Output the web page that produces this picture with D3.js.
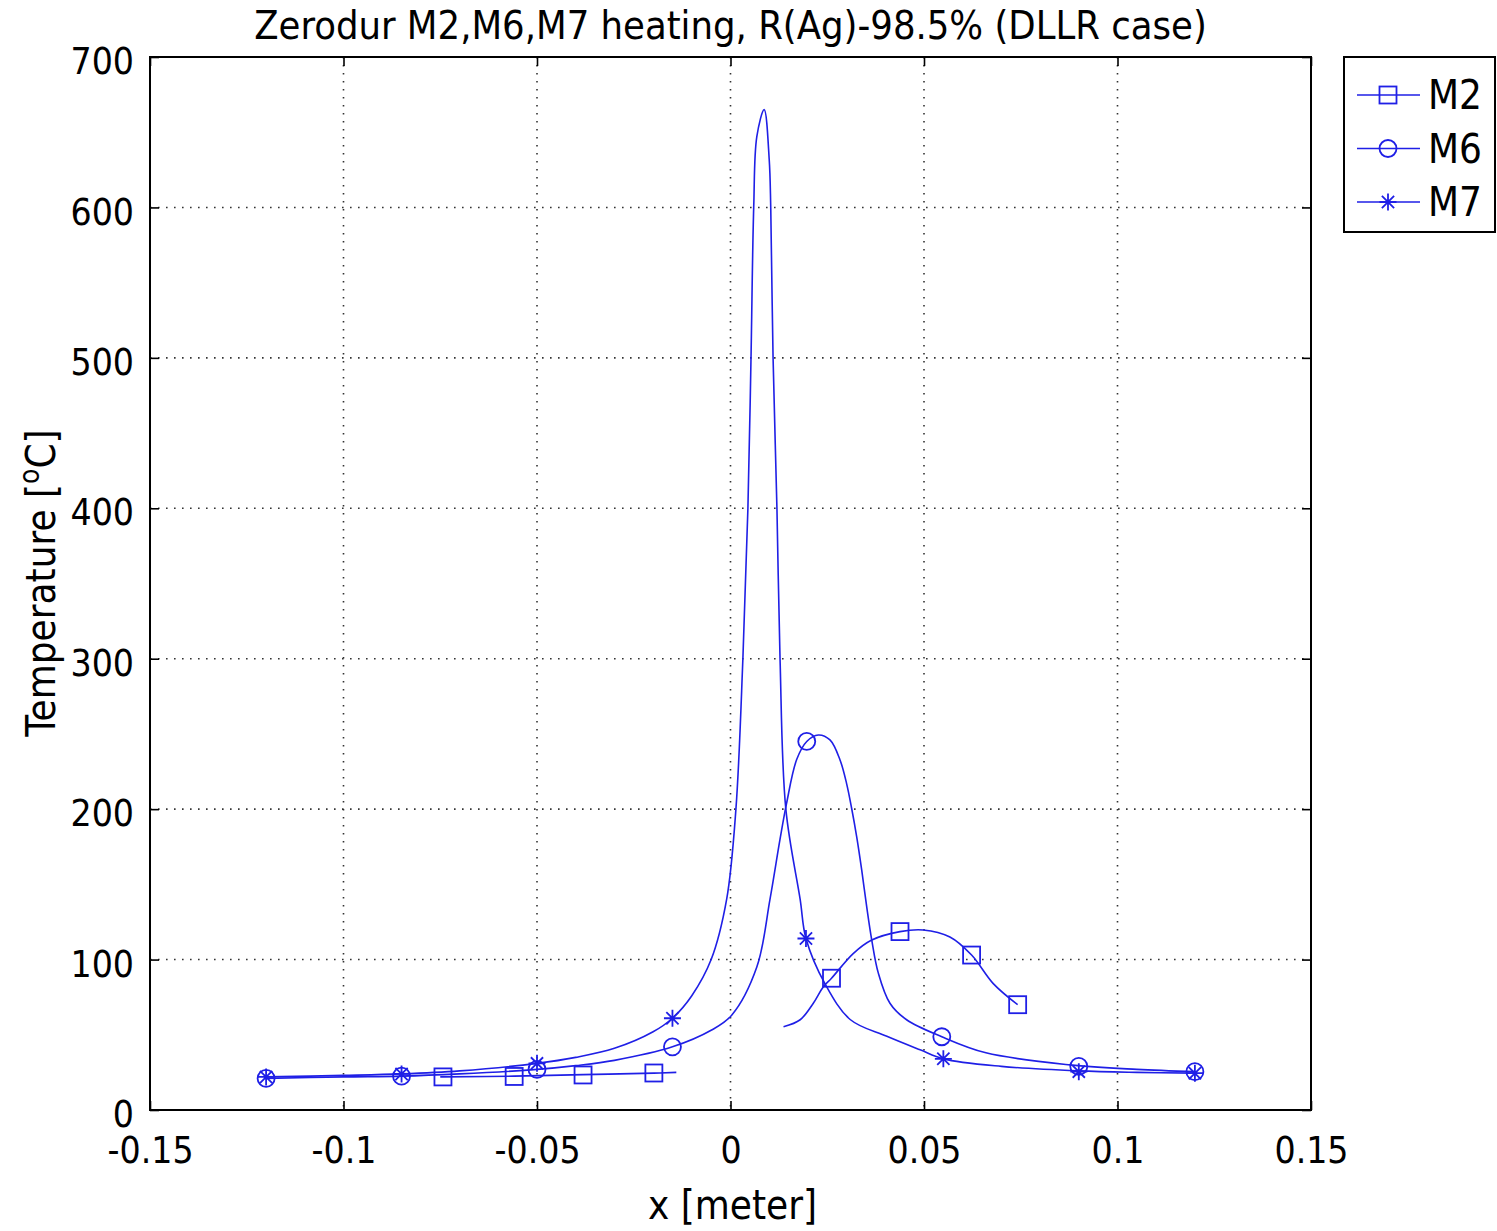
<!DOCTYPE html>
<html lang="en">
<head>
<meta charset="UTF-8">
<title>Zerodur M2,M6,M7 heating</title>
<script src="https://d3js.org/d3.v7.min.js"></script>
<style>
    body{ margin:0; background:#fff; }
    svg{ display:block; }
    text{ font-family: "DejaVu Sans Condensed", "DejaVu Sans", sans-serif; fill:#000; }
</style>
</head>
<body>
<script>

    // curve samples: [x (m), temperature (degC)]
    const m2Left = [[-0.075,22],[-0.0743,22],[-0.0559,22.5],[-0.0381,23.5],[-0.0198,24.5],[-0.014,25]]
    const m2Right = [[0.0137,55.4],[0.018,60],[0.0214,71],[0.024,82],[0.0261,87.6],[0.0317,104],[0.0365,113],
        [0.0438,118.6],[0.0498,119.7],[0.0567,115],[0.0623,103],[0.0679,84],[0.0742,70]]
    const m6Curve = [[-0.12,21],[-0.10,22],[-0.085,22.5],[-0.07,24],[-0.05,27],[-0.04,29.5],[-0.03,33],
        [-0.015,42],[-0.005,53],[0.0003,63],[0.0068,95],[0.0102,140],[0.0128,180],[0.0145,204],
        [0.0171,233],[0.0197,245],[0.0227,249.3],[0.0257,246],[0.0283,232.7],[0.030,217],[0.0313,200.6],
        [0.0326,181.7],[0.0339,159.6],[0.0352,135],[0.0365,113],[0.0382,91],[0.0412,71],[0.0455,60],
        [0.0546,48.7],[0.066,38],[0.0877,30],[0.105,27],[0.12,25.5]]
    const m7Curve = [[-0.12,22],[-0.10,23],[-0.085,24],[-0.07,26],[-0.05,31],[-0.04,35],[-0.03,41],
        [-0.02,52],[-0.015,61],[-0.01,76],[-0.005,100],[-0.001,140],[0.0014,200],[0.0032,300],
        [0.0045,400],[0.0053,500],[0.006,600],[0.0068,647],[0.0087,665],[0.01,632],[0.0104,600],
        [0.011,500],[0.012,400],[0.0128,300],[0.0143,200],[0.018,140],[0.0195,114],[0.0244,84],
        [0.031,60],[0.0404,49],[0.049,40],[0.055,34],[0.07,29],[0.09,26],[0.105,25],[0.12,24.5]]

    // marker positions
    const m2Markers = [[-0.0743,22],[-0.0559,22.3],[-0.0381,23.3],[-0.0198,24.6],[0.0261,87.6],[0.0438,118.6],[0.0623,103],[0.0742,70]]
    const m6Markers = [[-0.12,21],[-0.085,22.5],[-0.05,27],[-0.015,42],[0.0197,245],[0.0546,48.7],[0.09,29],[0.12,25.5]]
    const m7Markers = [[-0.12,22],[-0.085,24],[-0.05,31],[-0.015,61],[0.0195,114],[0.055,34],[0.09,25.5],[0.12,24.5]]

    const xTicks = [-0.15,-0.1,-0.05,0,0.05,0.1,0.15]
    const yTicks = [0,100,200,300,400,500,600,700]
    const legendNames = ["M2","M6","M7"]

    const width = 1497, height = 1231
    const plot = {left:150, right:1311, top:57, bottom:1110}
    const blue = "#1f1fe6"
    const fontFam = '"DejaVu Sans Condensed", "DejaVu Sans", sans-serif'

    const svg = d3.select("body").append("svg")
        .attr("width",width).attr("height",height)

    const x = d3.scaleLinear().domain([-0.15,0.15]).range([plot.left,plot.right])
    const y = d3.scaleLinear().domain([0,700]).range([plot.bottom,plot.top])

    // grid
    const grid = svg.append("g")
    grid.selectAll(".vg").data(xTicks.slice(1,-1)).enter().append("line")
        .attr("x1",d=>x(d)).attr("x2",d=>x(d))
        .attr("y1",plot.top).attr("y2",plot.bottom)
        .attr("stroke","#333").attr("stroke-width",1.6).attr("stroke-dasharray","1.6 6.4")
    grid.selectAll(".hg").data(yTicks.slice(1,-1)).enter().append("line")
        .attr("y1",d=>y(d)).attr("y2",d=>y(d))
        .attr("x1",plot.left).attr("x2",plot.right)
        .attr("stroke","#333").attr("stroke-width",1.6).attr("stroke-dasharray","1.6 6.4")

    // axes with inward ticks, plain hyphen for minus
    const fmt = d => String(d)
    const xAxisB = d3.axisBottom(x).tickValues(xTicks).tickSizeInner(-9).tickSizeOuter(0).tickFormat(fmt)
    const xAxisT = d3.axisTop(x).tickValues(xTicks).tickSizeInner(-9).tickSizeOuter(0).tickFormat("")
    const yAxisL = d3.axisLeft(y).tickValues(yTicks).tickSizeInner(-9).tickSizeOuter(0).tickFormat(fmt)
    const yAxisR = d3.axisRight(y).tickValues(yTicks).tickSizeInner(-9).tickSizeOuter(0).tickFormat("")

    function styleAxis(g){
        g.select(".domain").remove()
        g.selectAll(".tick line").attr("stroke","#000").attr("stroke-width",1.6)
        g.selectAll(".tick text").style("font-family",fontFam)
            .style("font-size","37px").attr("fill","#000")
    }
    svg.append("g").attr("transform",`translate(0,${plot.bottom})`).call(xAxisB).call(styleAxis)
        .selectAll(".tick text").attr("y",27).attr("dy","0.71em")
    svg.append("g").attr("transform",`translate(0,${plot.top})`).call(xAxisT).call(styleAxis)
    svg.append("g").attr("transform",`translate(${plot.left},0)`).call(yAxisL).call(styleAxis)
        .selectAll(".tick text").attr("x",-16).attr("dy","0.45em")
    svg.append("g").attr("transform",`translate(${plot.right},0)`).call(yAxisR).call(styleAxis)

    // frame
    svg.append("rect").attr("x",plot.left).attr("y",plot.top)
        .attr("width",plot.right-plot.left).attr("height",plot.bottom-plot.top)
        .attr("fill","none").attr("stroke","#000").attr("stroke-width",2)

    // lines
    const line = d3.line().x(d=>x(d[0])).y(d=>y(d[1])).curve(d3.curveCatmullRom.alpha(0.5))
    const lines = svg.append("g").attr("fill","none").attr("stroke",blue).attr("stroke-width",1.6)
    ;[m2Left,m2Right,m6Curve,m7Curve].forEach(c=>{
        lines.append("path").attr("d",line(c))
    })

    // marker drawing
    function square(g,cx,cy){
        g.append("rect").attr("x",cx-8.5).attr("y",cy-8.5).attr("width",17).attr("height",17)
            .attr("fill","none").attr("stroke",blue).attr("stroke-width",1.8)
    }
    function circle(g,cx,cy){
        g.append("circle").attr("cx",cx).attr("cy",cy).attr("r",8.5)
            .attr("fill","none").attr("stroke",blue).attr("stroke-width",1.8)
    }
    function star(g,cx,cy){
        const r = 8.5, d = r*0.72
        g.append("path")
            .attr("d",`M${cx},${cy-r}L${cx},${cy+r}M${cx-r},${cy}L${cx+r},${cy}M${cx-d},${cy-d}L${cx+d},${cy+d}M${cx-d},${cy+d}L${cx+d},${cy-d}`)
            .attr("stroke",blue).attr("stroke-width",1.8).attr("fill","none")
    }
    const markerFns = [square,circle,star]
    const marks = svg.append("g")
    ;[m2Markers,m6Markers,m7Markers].forEach((arr,i)=>{
        arr.forEach(p=>markerFns[i](marks,x(p[0]),y(p[1])))
    })

    // title and labels
    svg.append("text").attr("x",(plot.left+plot.right)/2).attr("y",39)
        .attr("text-anchor","middle").style("font-size","39.5px")
        .text("Zerodur M2,M6,M7 heating, R(Ag)-98.5% (DLLR case)")
    svg.append("text").attr("x",(plot.left+plot.right)/2+2).attr("y",1219)
        .attr("text-anchor","middle").style("font-size","40px")
        .text("x [meter]")
    const yl = svg.append("text").attr("transform",`translate(55,583) rotate(-90)`)
        .attr("text-anchor","middle").style("font-size","40px")
    yl.append("tspan").text("Temperature [")
    yl.append("tspan").attr("baseline-shift","super").style("font-size","28px").text("o")
    yl.append("tspan").text("C]")

    // legend
    const lg = svg.append("g")
    lg.append("rect").attr("x",1344).attr("y",57).attr("width",151).attr("height",175)
        .attr("fill","#fff").attr("stroke","#000").attr("stroke-width",2)
    legendNames.forEach((name,i)=>{
        const cy = 95 + i*53.5
        lg.append("line").attr("x1",1357).attr("x2",1420).attr("y1",cy).attr("y2",cy)
            .attr("stroke",blue).attr("stroke-width",1.6)
        markerFns[i](lg,1388,cy)
        lg.append("text").attr("x",1428).attr("y",cy+14).style("font-size","40px").text(name)
    })

</script>
</body>
</html>
